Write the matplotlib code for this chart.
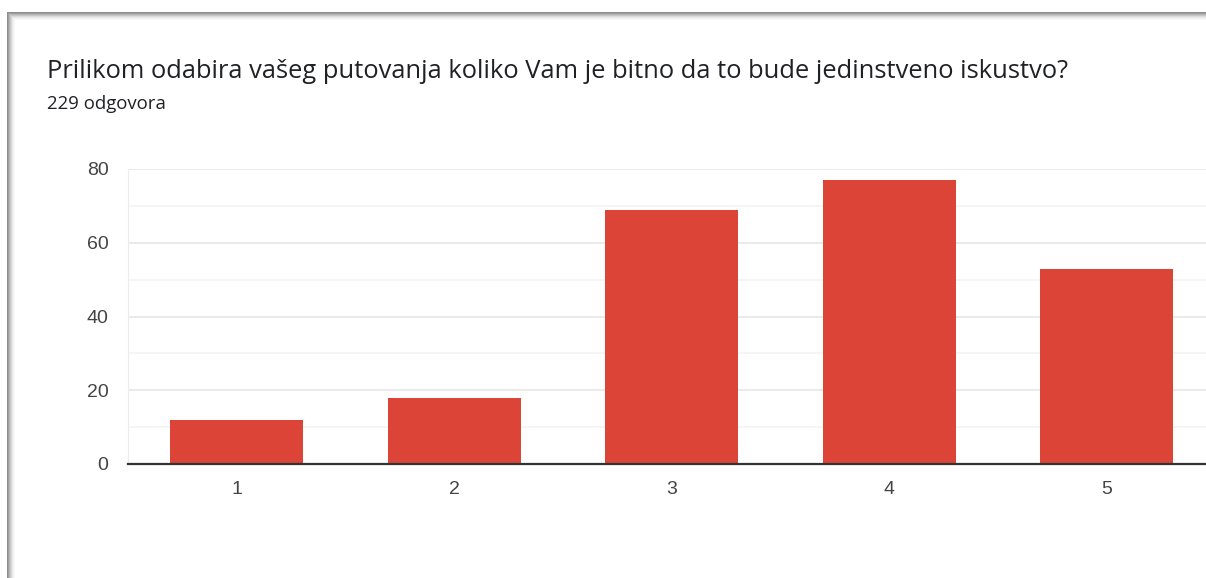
import numpy as np
import matplotlib.pyplot as plt
from matplotlib.patches import Rectangle

# survey answers (scale 1-5) and counts
categories = ['1', '2', '3', '4', '5']
counts = [12, 18, 69, 77, 53]
title = 'Prilikom odabira vašeg putovanja koliko Vam je bitno da to bude jedinstveno iskustvo?'
subtitle = '229 odgovora'

W, H = 1206, 578
fig = plt.figure(figsize=(W / 100, H / 100), dpi=100)
fig.patch.set_facecolor('white')

# card shadow along top and left edges
shades = ['#8c8c8c', '#a0a0a0', '#b4b4b4', '#c8c8c8', '#d9d9d9', '#e7e7e7', '#f1f1f1', '#f8f8f8']
for i, c in enumerate(shades):
    fig.add_artist(Rectangle(((7 + i) / W, (H - 13 - i) / H), 1, 1 / H, transform=fig.transFigure,
                             color=c, lw=0))
    fig.add_artist(Rectangle(((7 + i) / W, 0), 1 / W, (H - 13 - i) / H, transform=fig.transFigure,
                             color=c, lw=0))

fig.text(47 / W, 1 - 72 / H, title, fontsize=18.35, color='#202124',
         family=['Open Sans', 'DejaVu Sans'], va='center', ha='left')
fig.text(47 / W, 1 - 104 / H, subtitle, fontsize=13.4, color='#202124',
         family=['Open Sans', 'DejaVu Sans'], va='center', ha='left')

ax = fig.add_axes([128 / W, (H - 464) / H, 1 - 128 / W, (464 - 169) / H])
x = np.arange(1, len(categories) + 1)
ax.bar(x, counts, width=0.61, color='#db4437', zorder=3)

ax.set_xlim(0.5, 0.5 + (W - 128) / 217.5)
ax.set_ylim(0, 80)
ax.set_xticks(x)
ax.set_xticklabels(categories)
ax.set_yticks([0, 20, 40, 60, 80])
ax.set_yticks([10, 30, 50, 70], minor=True)
ax.grid(axis='y', which='major', color='#e6e6e6', lw=1.2, zorder=0)
ax.grid(axis='y', which='minor', color='#f3f3f3', lw=1.2, zorder=0)
ax.tick_params(axis='both', which='both', length=0, labelsize=14, labelcolor='#444444',
               labelfontfamily='Liberation Sans')
ax.tick_params(axis='y', pad=14)
ax.tick_params(axis='x', pad=12)

for s in ['top', 'right']:
    ax.spines[s].set_visible(False)
ax.spines['left'].set_color('#ececec')
ax.spines['bottom'].set_color('#333333')
ax.spines['bottom'].set_linewidth(1.6)
ax.spines['bottom'].set_zorder(4)

plt.savefig('out.png', dpi=100)
